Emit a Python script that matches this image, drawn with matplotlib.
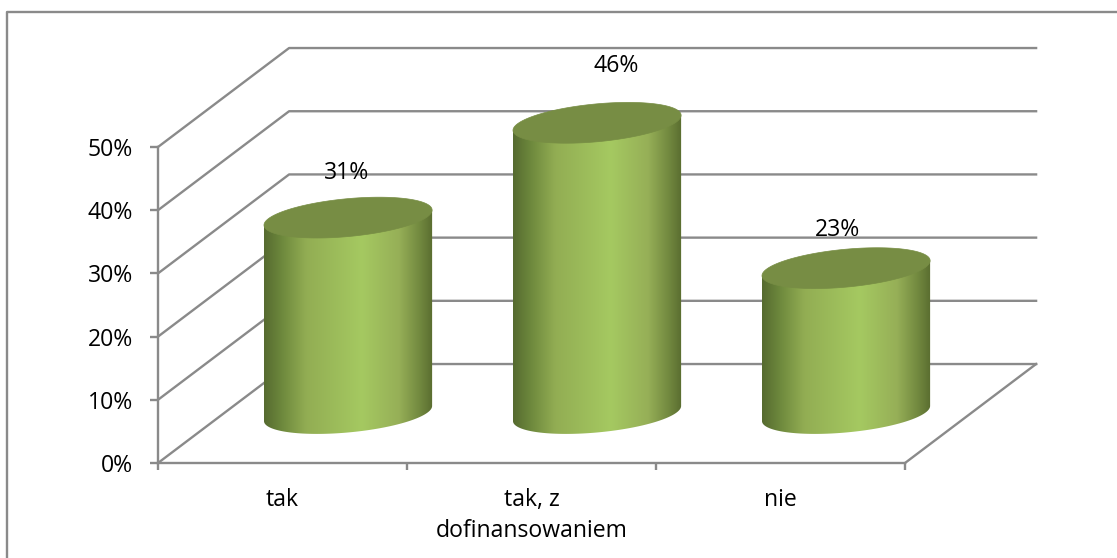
import numpy as np
import matplotlib
matplotlib.use("Agg")
import matplotlib.pyplot as plt
from matplotlib.colors import LinearSegmentedColormap
from matplotlib.lines import Line2D
from matplotlib.patches import Polygon

categories = ["tak", "tak, z\ndofinansowaniem", "nie"]
values = [31, 46, 23]
value_labels = ["31%", "46%", "23%"]
y_ticks = [0, 10, 20, 30, 40, 50]
y_tick_labels = ["0%", "10%", "20%", "30%", "40%", "50%"]

W, H = 1117, 558
GREY = "#8a8a8a"
LINE_W = 1.7
FONT_SIZE = 16.6
# how far the back wall is pushed from the front plane, in data units
DEPTH_X = 0.5265
DEPTH_Y = 15.66
# cylinder ellipse, in data units
RADIUS = 0.3376
SKEW = 1.19
MINOR = 3.0
# data label shift from the top centre of each cylinder, in points
LABEL_SHIFT = [(-1, 32), (14, 41), (-6, 27.5)]

plt.rcParams["font.family"] = ["Open Sans", "DejaVu Sans"]

fig = plt.figure(figsize=(W / 100, H / 100), dpi=100)
ax = fig.add_axes([158 / W, 1 - 463 / H, (905 - 158) / W, (463 - 147) / H])
ax.patch.set_visible(False)
ax.set_xlim(-0.5, 2.5)
ax.set_ylim(0, 50)

# frame of the chart area, only left and top are inside the picture
fig.add_artist(Line2D([7 / W, 7 / W, 1], [0, 1 - 12 / H, 1 - 12 / H], transform=fig.transFigure,
                      color=GREY, lw=LINE_W))

# side wall and back wall lines
for v in y_ticks:
    ax.plot([-0.5, -0.5 + DEPTH_X, 2.5 + DEPTH_X], [v, v + DEPTH_Y, v + DEPTH_Y],
            color=GREY, lw=LINE_W, clip_on=False, zorder=1)
# right edge of the floor
ax.plot([2.5, 2.5 + DEPTH_X], [0, DEPTH_Y], color=GREY, lw=LINE_W, clip_on=False, zorder=1)

body_cmap = LinearSegmentedColormap.from_list("body", [
    (0.0, "#566b30"), (0.10, "#6c873c"), (0.25, "#92ad53"), (0.58, "#a5c961"),
    (0.80, "#96af57"), (0.92, "#738a40"), (1.0, "#5a6d30")])
shade = np.linspace(0, 1, 256).reshape(1, -1)
t = np.linspace(0, 2 * np.pi, 200)

for i, v in enumerate(values):
    cx = i + DEPTH_X / 2
    y0 = DEPTH_Y / 2
    y1 = v + DEPTH_Y / 2
    ex = RADIUS * np.cos(t)
    ey = SKEW * np.cos(t) + MINOR * np.sin(t)
    low = (t >= np.pi)
    # side of the cylinder: lower half of the base, then straight up to the top
    pts = np.column_stack([cx + ex[low], y0 + ey[low]])
    pts = np.vstack([pts, [cx + RADIUS, y1 + SKEW], [cx - RADIUS, y1 - SKEW]])
    body = Polygon(pts, closed=True, transform=ax.transData, fc="none", ec="none")
    ax.add_patch(body)
    body.set_clip_on(False)
    im = ax.imshow(shade, cmap=body_cmap, aspect="auto", zorder=3,
                   extent=[cx - RADIUS, cx + RADIUS, y0 - MINOR - SKEW, y1 + SKEW + 1],
                   interpolation="bilinear")
    # image has to reach past the axes box, the bars stand behind the front plane
    im.set_clip_box(fig.bbox)
    im.set_clip_path(body)
    ax.add_patch(Polygon(np.column_stack([cx + ex, y1 + ey]), closed=True, fc="#778d44", ec="#778d44",
                         lw=0.5, zorder=4, clip_on=False))
    ax.annotate(value_labels[i], (cx, y1), xytext=LABEL_SHIFT[i], textcoords="offset points",
                ha="center", va="center", fontsize=FONT_SIZE, color="black", zorder=5, annotation_clip=False)

ax.set_xlim(-0.5, 2.5)
ax.set_ylim(0, 50)

for side in ["top", "right"]:
    ax.spines[side].set_visible(False)
for side in ["left", "bottom"]:
    ax.spines[side].set_color(GREY)
    ax.spines[side].set_linewidth(LINE_W)

ax.set_yticks(y_ticks)
ax.set_yticklabels(y_tick_labels, fontsize=FONT_SIZE)
ax.tick_params(axis="y", color=GREY, width=LINE_W, length=5.8, pad=12)
ax.set_xticks([0, 1, 2])
ax.set_xticklabels(categories, fontsize=FONT_SIZE, linespacing=1.4)
ax.tick_params(axis="x", which="major", length=0, pad=18)
ax.set_xticks([-0.5, 0.5, 1.5, 2.5], minor=True)
ax.tick_params(axis="x", which="minor", color=GREY, width=LINE_W, length=5)

fig.savefig("out.png", dpi=100)
